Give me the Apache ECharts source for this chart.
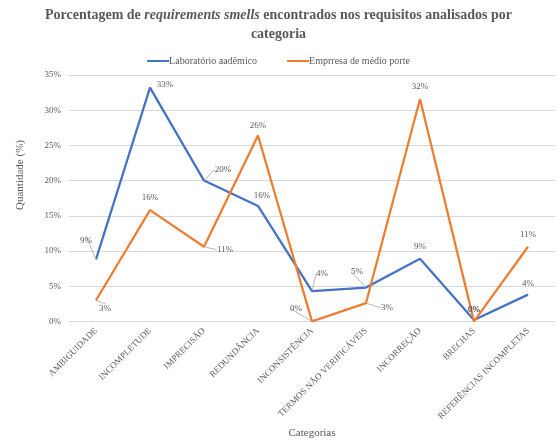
<!DOCTYPE html>
<html><head><meta charset="utf-8">
<script src="https://cdn.jsdelivr.net/npm/echarts@6/dist/echarts.min.js"></script>
<style>html,body{margin:0;padding:0;background:#fff}#c{width:557px;height:444px}</style>
</head><body><div id="c"></div>
<script>
const categories = ['AMBIGUIDADE','INCOMPLETUDE','IMPRECISÃO','REDUNDÂNCIA','INCONSISTÊNCIA','TERMOS NÃO VERIFICÁVEIS','INCORREÇÃO','BRECHAS','REFERÊNCIAS INCOMPLETAS'];
const labValues = [8.8, 33.2, 20.0, 16.4, 4.3, 4.8, 8.9, 0.2, 3.8];
const empValues = [3.0, 15.8, 10.6, 26.4, 0, 2.6, 31.6, 0, 10.6];
const seriesNames = ['Laboratório aadêmico', 'Emprresa de médio porte'];
const yTicks = [0, 5, 10, 15, 20, 25, 30, 35];

const labOffsets = [[-10,-19],[15,-3],[19,-11],[4,-10],[10,-17],[-9,-16],[0,-12],[0,-10.6],[0,-11]];
const empOffsets = [[9,8],[0,-13],[21,3],[0,-10],[-16,-13],[21,5],[0,-12],[0,-12],[0,-12]];
const labLeader = [true,false,true,false,true,true,false,false,false];
const empLeader = [true,false,true,false,true,true,false,false,false];

const serif = '"Liberation Serif", "DejaVu Serif", serif';
const gray = '#595959';
const chart = echarts.init(document.getElementById('c'));
function mkLayout(offs){
  return function(p){ const o = offs[p.dataIndex]; return {dx:o[0], dy:o[1]}; };
}
function mkData(vals, leaders, color){
  return vals.map((v,i)=>({value:v, labelLine:{show:leaders[i], lineStyle:{color:color, width:0.8}}}));
}
const lblStyle = {show:true, position:'inside', formatter:p=>Math.round(p.value)+'%', fontFamily:serif, fontSize:9, color:gray};
chart.setOption({
  animation:false,
  title:{
    text:'{b|Porcentagem de }{i|requirements smells}{b| encontrados nos requisitos analisados por}\n{b|categoria}',
    left:'center', top:1,
    textStyle:{fontFamily:serif, fontSize:14, fontWeight:'bold', color:gray, align:'center',
      rich:{b:{fontFamily:serif, fontSize:14, fontWeight:'bold', color:gray, lineHeight:19},
            i:{fontFamily:serif, fontSize:14, fontWeight:'bold', fontStyle:'italic', color:gray, lineHeight:19}}}
  },
  legend:{
    top:51, left:'center', itemGap:30, itemWidth:22, itemHeight:2, icon:'rect',
    textStyle:{fontFamily:serif, fontSize:10, color:gray, padding:[0,0,0,-5]},
    data:seriesNames
  },
  graphic:[{type:'text', x:20, y:175, rotation:Math.PI/2,
    style:{text:'Quantidade (%)', fontFamily:serif, fontSize:11, fill:gray, align:'center', verticalAlign:'middle'}}],
  grid:{left:69, right:2, top:75, bottom:122},
  xAxis:{
    type:'category', data:categories, boundaryGap:true,
    name:'Categorias', nameLocation:'middle', nameGap:105,
    nameTextStyle:{fontFamily:serif, fontSize:11, color:gray},
    axisLine:{lineStyle:{color:'#D9D9D9'}}, axisTick:{show:false},
    axisLabel:{rotate:45, interval:0, fontFamily:serif, fontSize:9, color:gray, margin:8}
  },
  yAxis:{
    type:'value', min:yTicks[0], max:yTicks[yTicks.length-1], interval:5,
    axisLine:{show:false}, axisTick:{show:false},
    axisLabel:{formatter:'{value}%', fontFamily:serif, fontSize:9, color:gray, margin:8},
    splitLine:{lineStyle:{color:'#D9D9D9'}}
  },
  series:[
    {name:seriesNames[0], type:'line', data:mkData(labValues, labLeader, '#A6A6A6'), symbol:'circle', symbolSize:0, showSymbol:true, color:'#4472C4',
     lineStyle:{width:2.25, color:'#4472C4'}, label:lblStyle, labelLayout:mkLayout(labOffsets),
     labelLine:{show:true, lineStyle:{color:'#A6A6A6', width:0.8}}},
    {name:seriesNames[1], type:'line', data:mkData(empValues, empLeader, '#A6A6A6'), symbol:'circle', symbolSize:0, showSymbol:true, color:'#ED7D31',
     lineStyle:{width:2.25, color:'#ED7D31'}, label:lblStyle, labelLayout:mkLayout(empOffsets),
     labelLine:{show:true, lineStyle:{color:'#A6A6A6', width:0.8}}}
  ]
});
</script></body></html>
